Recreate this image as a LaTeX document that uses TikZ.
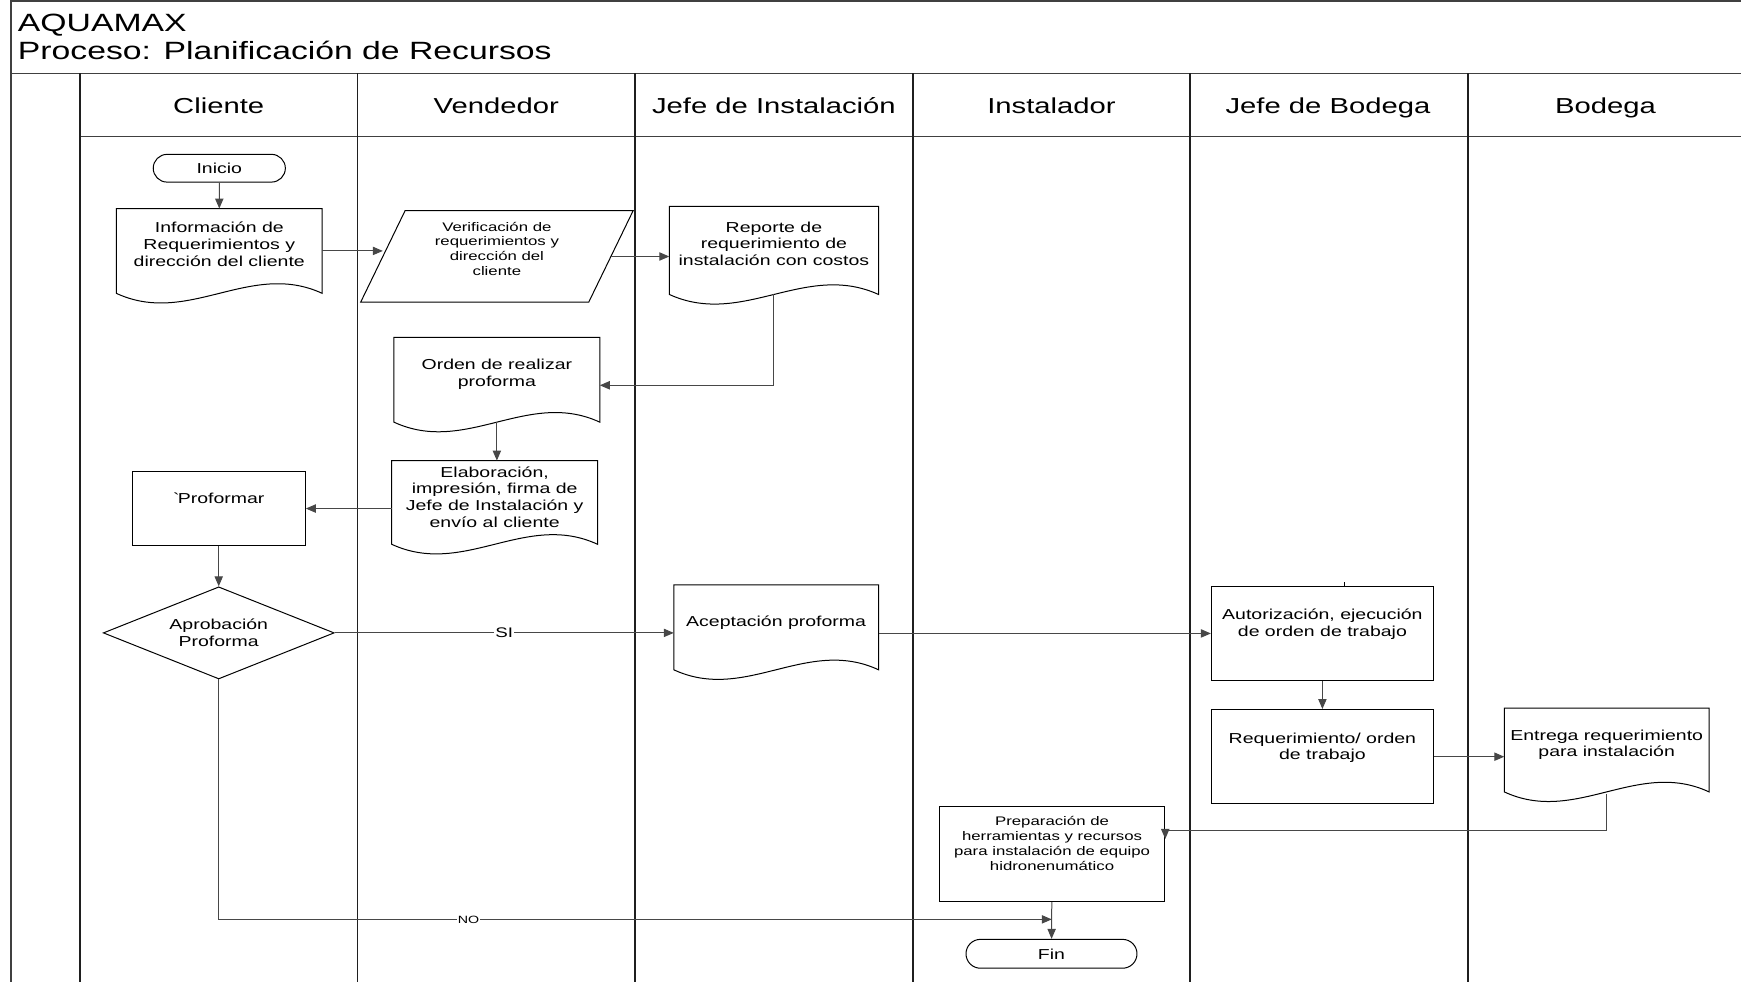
\documentclass[tikz,border=0pt]{standalone}
\usepackage{fontspec}
\setmainfont{Liberation Sans}[FakeStretch=1.35]
\usetikzlibrary{shapes.geometric,shapes.misc,arrows.meta,calc}

% outline of a document symbol around a borderless node
\newcommand\docline[1]{%
  \draw[shapeline] (#1.north west) -- (#1.north east) -- (#1.south east)
    .. controls ($(#1.south east)!0.35!(#1.south west)+(0,-30)$)
           and ($(#1.south west)!0.35!(#1.south east)+(0,30)$) .. (#1.south west)
    -- cycle;}

\begin{document}
\begin{tikzpicture}[x=1pt,y=-1pt,
  frameline/.style={line width=1.3pt, draw=black!75},
  laneline/.style={line width=1.7pt, draw=black!88},
  shapeline/.style={line width=0.9pt, draw=black},
  hdr/.style={font=\fontsize{19.5}{23}\selectfont, text height=14pt, text depth=4pt},
  txt/.style={font=\fontsize{13}{15}\selectfont, align=center, inner sep=1pt},
  small/.style={font=\fontsize{11.2}{13.3}\selectfont, align=center, inner sep=1pt},
  lift/.style={execute at end node={\rule[-#1]{0pt}{#1}}},
  docbox/.style={txt, lift=12pt},
  procbox/.style={txt, draw, shapeline, lift=19pt},
  term/.style={txt, rounded rectangle, draw, shapeline},
  flow/.style={line width=0.9pt, draw=black!72, -{Triangle[length=9pt,width=7.5pt]}},
  tag/.style={fill=white, inner sep=1pt}
]
\useasboundingbox (0,0) rectangle (1568,884);

% frame, title and swimlanes
\draw[frameline] (10,884) -- (10,0.7) -- (1568,0.7);
\draw[frameline] (10,66) -- (1568,66);
\draw[frameline] (72,123) -- (1568,123);
\foreach \lx in {72,322,572,822,1072,1322}
  \draw[laneline] (\lx,66) -- (\lx,884);

\node[anchor=base west, font=\fontsize{22.5}{26}\selectfont, inner sep=0pt] (title1) at (16,28) {AQUAMAX};
\node[anchor=base west, font=\fontsize{22.5}{26}\selectfont, inner sep=0pt] (title2) at (16,54) {Proceso: Planificación de Recursos};

\node[hdr] (hcli) at (197,97)  {Cliente};
\node[hdr] (hven) at (447,97)  {Vendedor};
\node[hdr] (hjin) at (697,97)  {Jefe de Instalación};
\node[hdr] (hins) at (947,97)  {Instalador};
\node[hdr] (hjbo) at (1196,97) {Jefe de Bodega};
\node[hdr] (hbod) at (1446,97) {Bodega};

% process symbols
\node[term, minimum width=121pt, minimum height=25pt] (inicio) at (197.5,151.5) {Inicio};

\node[docbox, minimum width=185pt, minimum height=76pt] (info) at (197.5,226) {Información de\\Requerimientos y\\dirección del cliente};
\node[small, lift=14pt, minimum width=205pt, minimum height=82pt] (verif) at (447.5,231) {Verificación de\\requerimientos y\\dirección del\\cliente};
\node[docbox, minimum width=188pt, minimum height=79pt] (rep) at (697,225.5) {Reporte de\\requerimiento de\\instalación con costos};
\node[docbox, minimum width=185pt, minimum height=76pt] (orden) at (447.5,342) {Orden de realizar\\proforma};
\node[txt, lift=10pt, minimum width=185pt, minimum height=75pt] (elab) at (445.5,452.5) {Elaboración,\\impresión, firma de\\Jefe de Instalación y\\envío al cliente};
\node[procbox, minimum width=156pt, minimum height=66pt] (prof) at (197,458) {\textasciigrave Proformar};
\node[txt, diamond, draw, shapeline, shape aspect=2.5, inner sep=0pt, minimum width=208pt, minimum height=83pt] (dia) at (197,570) {Aprobación\\Proforma};
\node[docbox, minimum width=184pt, minimum height=76pt] (acep) at (699,565) {Aceptación proforma};
\node[procbox, minimum width=200pt, minimum height=85pt] (autor) at (1191,570.5) {Autorización, ejecución\\de orden de trabajo};
\node[procbox, minimum width=200pt, minimum height=85pt] (req) at (1191,681.5) {Requerimiento/ orden\\de trabajo};
\node[docbox, minimum width=184pt, minimum height=75pt] (ent) at (1447,675.5) {Entrega requerimiento\\para instalación};
\node[small, draw, shapeline, lift=19pt, minimum width=203pt, minimum height=86pt] (prep) at (947.5,769) {Preparación de\\herramientas y recursos\\para instalación de equipo\\hidronenumático};
\node[term, minimum width=156pt, minimum height=26pt] (fin) at (947,859) {Fin};

% document and data outlines
\foreach \d in {info,rep,orden,elab,acep,ent} { \docline{\d} }
\draw[shapeline] ($(verif.north west)+(20,0)$) -- ($(verif.north east)+(20,0)$)
  -- ($(verif.south east)+(-20,0)$) -- ($(verif.south west)+(-20,0)$) -- cycle;
\draw[line width=1.2pt] ($(autor.north)+(20,-3)$) -- ($(autor.north)+(20,0)$);

% connectors
\draw[flow] (inicio) -- (info);
\draw[flow] (info.east) -- (info.east -| verif.west);
\draw[flow] (verif.east) -- (verif.east -| rep.west);
\draw[flow] (rep.south) |- ($(orden.east)+(0,5)$);
\draw[flow] (orden.south) -- (orden.south |- elab.north);
\draw[flow] (elab.west |- prof.east) -- (prof.east);
\draw[flow] (prof) -- (dia);
\draw[flow] (dia.east) -- node[tag, font=\fontsize{12.5}{14}\selectfont] (si) {SI} (dia.east -| acep.west);
\draw[flow] (acep.east |- autor.west) -- (autor.west);
\draw[flow] (autor) -- (req);
\draw[flow] (req.east) -- (req.east -| ent.west);
\coordinate (prepin) at ($(prep.north east)+(0,26)$);
\draw[flow] ([yshift=-2pt]ent.south) |- ([yshift=4pt]prepin) -- ([yshift=-4pt]prepin);
\draw[flow] (prep) -- (fin);
\coordinate (nojoin) at ($(prep.south)!0.47!(fin.north)$);
\draw[flow] (dia.south) |- node[tag, pos=0.65, font=\fontsize{9.5}{11}\selectfont] (no) {NO} (nojoin);
\end{tikzpicture}
\end{document}
